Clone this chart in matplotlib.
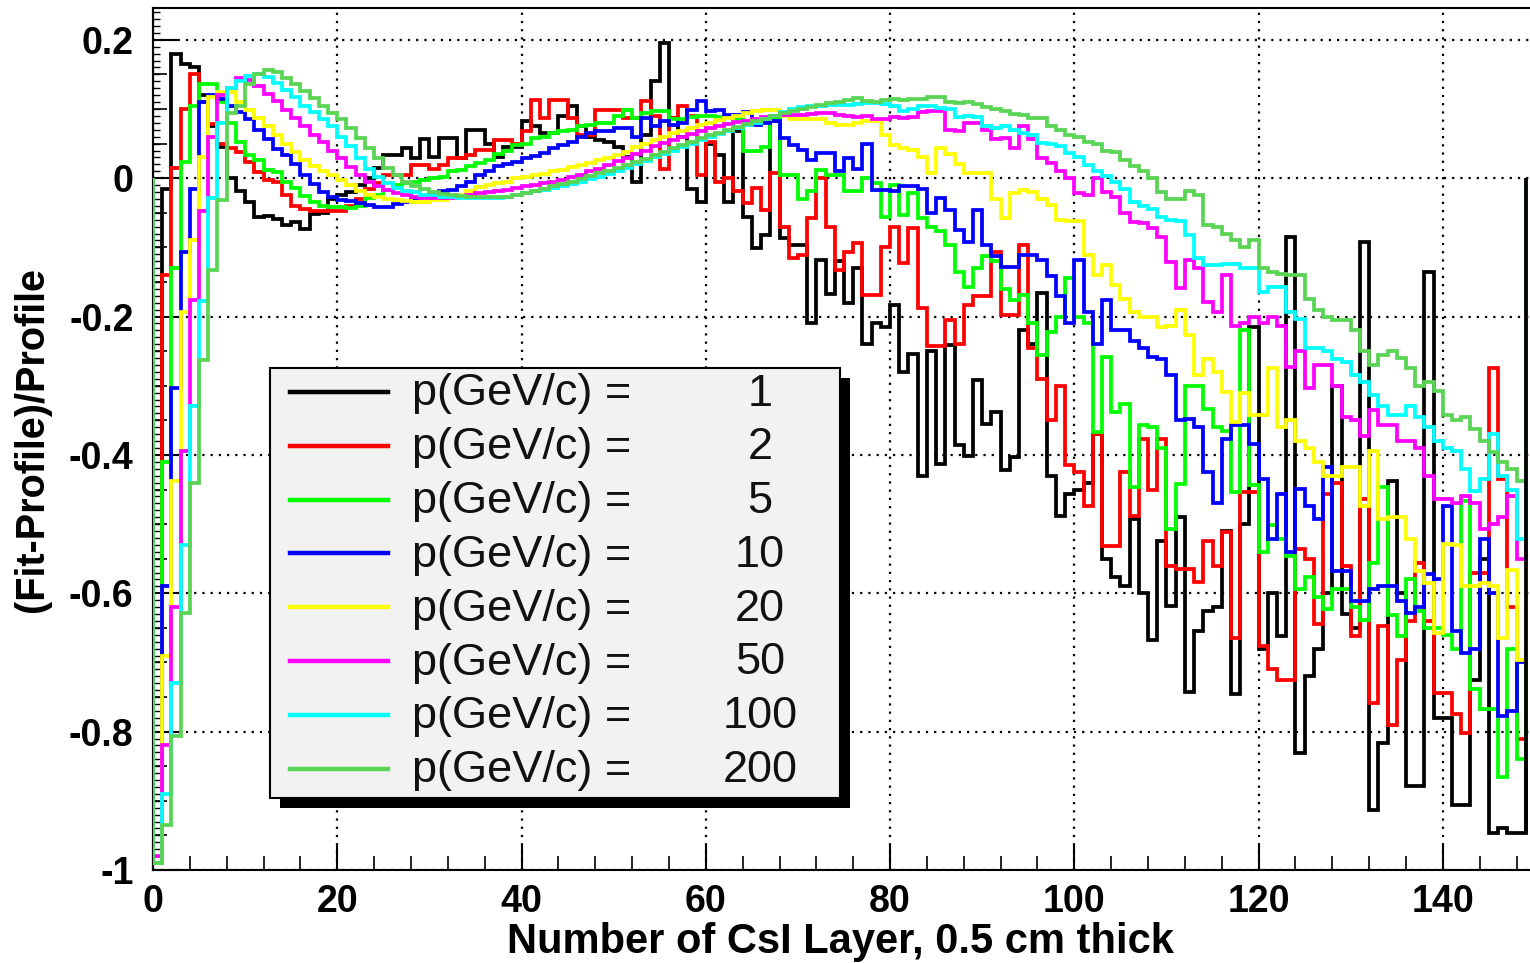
import numpy as np
import matplotlib
matplotlib.use("Agg")
import matplotlib.pyplot as plt
from matplotlib.patches import Rectangle
from matplotlib.lines import Line2D
from matplotlib.ticker import MultipleLocator, FixedLocator, FixedFormatter

plt.rcParams['font.family'] = ['Liberation Sans', 'DejaVu Sans']

# momentum of each curve (GeV/c) and its colour
momenta = [1, 2, 5, 10, 20, 50, 100, 200]
colors = ['#000000', '#ff0000', '#00ff00', '#0000ff',
          '#ffff00', '#ff00ff', '#00ffff', '#59d454']

# (Fit-Profile)/Profile per CsI layer (149 layers)
p1 = [-0.99, -0.015, 0.179, 0.165, 0.16, 0.12, 0.075, 0.045, 0.0, -0.019,
      -0.035, -0.056, -0.054, -0.059, -0.068, -0.064, -0.073, -0.052, -0.05, -0.03,
      -0.025, -0.02, -0.01, 0.0, 0.015, 0.034, 0.034, 0.043, 0.029, 0.056,
      0.03, 0.058, 0.058, 0.029, 0.07, 0.07, 0.05, 0.031, 0.045, 0.045,
      0.082, 0.075, 0.065, 0.065, 0.09, 0.104, 0.075, 0.06, 0.055, 0.053,
      0.045, 0.03, -0.005, 0.063, 0.14, 0.196, 0.087, 0.06, -0.015, -0.034,
      0.05, 0.034, -0.034, 0.068, -0.056, -0.101, -0.082, 0.082, -0.087, -0.097,
      -0.097, -0.21, -0.118, -0.167, -0.12, -0.181, -0.13, -0.24, -0.21, -0.215,
      -0.184, -0.28, -0.254, -0.43, -0.25, -0.413, -0.241, -0.386, -0.401, -0.292,
      -0.355, -0.338, -0.422, -0.403, -0.22, -0.24, -0.166, -0.43, -0.488, -0.456,
      -0.45, -0.44, -0.37, -0.55, -0.577, -0.59, -0.493, -0.6, -0.667, -0.524,
      -0.618, -0.49, -0.742, -0.655, -0.626, -0.62, -0.51, -0.746, -0.5, -0.215,
      -0.68, -0.6, -0.662, -0.085, -0.831, -0.72, -0.68, -0.6, -0.3, -0.63,
      -0.65, -0.092, -0.913, -0.817, -0.437, -0.6, -0.879, -0.879, -0.135, -0.78,
      -0.78, -0.906, -0.906, -0.725, -0.55, -0.947, -0.94, -0.947, -0.947]

p2 = [-0.99, -0.14, 0.015, 0.10, 0.151, 0.11, 0.078, 0.049, 0.043, 0.038,
      0.024, 0.009, -0.003, -0.005, -0.024, -0.04, -0.045, -0.047, -0.047, -0.048,
      -0.048, -0.04, -0.03, -0.015, -0.007, 0.005, 0.005, 0.005, 0.019, 0.019,
      0.014, 0.019, 0.029, 0.029, 0.034, 0.041, 0.041, 0.055, 0.055, 0.05,
      0.068, 0.113, 0.087, 0.113, 0.113, 0.087, 0.063, 0.063, 0.099, 0.099,
      0.099, 0.087, 0.087, 0.111, 0.09, 0.014, 0.087, 0.104, 0.09, 0.005,
      0.053, -0.005, 0.0, -0.019, -0.036, -0.014, -0.046, 0.007, -0.07, -0.116,
      -0.111, -0.058, 0.0, -0.07, -0.133, -0.106, -0.094, -0.169, -0.169, -0.1,
      -0.07, -0.123, -0.072, -0.188, -0.242, -0.242, -0.205, -0.24, -0.183, -0.171,
      -0.171, -0.106, -0.198, -0.198, -0.097, -0.246, -0.29, -0.35, -0.3, -0.415,
      -0.425, -0.474, -0.37, -0.531, -0.531, -0.425, -0.488, -0.377, -0.45, -0.377,
      -0.56, -0.565, -0.565, -0.584, -0.524, -0.56, -0.512, -0.664, -0.454, -0.454,
      -0.676, -0.71, -0.725, -0.725, -0.536, -0.551, -0.645, -0.457, -0.44, -0.56,
      -0.662, -0.464, -0.758, -0.647, -0.79, -0.696, -0.64, -0.556, -0.64, -0.744,
      -0.744, -0.775, -0.802, -0.57, -0.57, -0.275, -0.435, -0.62, -0.81]

p5 = [-0.99, -0.41, -0.13, 0.024, 0.104, 0.136, 0.136, 0.11, 0.08, 0.052,
      0.033, 0.026, 0.012, 0.009, -0.005, -0.014, -0.026, -0.035, -0.04, -0.042,
      -0.041, -0.043, -0.04, -0.029, -0.025, -0.017, -0.01, -0.007, -0.005, -0.003,
      0.0, 0.002, 0.01, 0.012, 0.017, 0.022, 0.027, 0.035, 0.039, 0.048,
      0.05, 0.058, 0.06, 0.065, 0.068, 0.07, 0.075, 0.077, 0.08, 0.08,
      0.09, 0.099, 0.087, 0.094, 0.097, 0.097, 0.085, 0.085, 0.088, 0.09,
      0.09, 0.088, 0.088, 0.085, 0.039, 0.039, 0.045, 0.087, 0.005, 0.005,
      -0.03, -0.019, 0.012, 0.005, 0.005, -0.019, -0.019, 0.0, -0.007, -0.056,
      -0.01, -0.053, -0.022, -0.058, -0.07, -0.077, -0.097, -0.135, -0.157, -0.13,
      -0.113, -0.12, -0.16, -0.176, -0.169, -0.21, -0.256, -0.222, -0.2, -0.145,
      -0.2, -0.21, -0.367, -0.258, -0.338, -0.326, -0.447, -0.357, -0.36, -0.39,
      -0.507, -0.442, -0.30, -0.30, -0.333, -0.36, -0.365, -0.454, -0.22, -0.444,
      -0.541, -0.502, -0.522, -0.546, -0.594, -0.577, -0.606, -0.623, -0.594, -0.594,
      -0.62, -0.638, -0.556, -0.447, -0.632, -0.662, -0.58, -0.625, -0.65, -0.65,
      -0.66, -0.681, -0.466, -0.739, -0.768, -0.768, -0.865, -0.68, -0.84]

p10 = [-0.99, -0.59, -0.304, -0.106, -0.015, 0.11, 0.12, 0.115, 0.105, 0.096,
       0.085, 0.07, 0.056, 0.042, 0.033, 0.02, 0.005, -0.008, -0.02, -0.027,
       -0.031, -0.033, -0.036, -0.039, -0.041, -0.041, -0.038, -0.034, -0.029, -0.027,
       -0.024, -0.019, -0.017, -0.012, -0.005, 0.005, 0.01, 0.017, 0.02, 0.024,
       0.029, 0.032, 0.036, 0.043, 0.048, 0.053, 0.06, 0.066, 0.068, 0.068,
       0.072, 0.072, 0.06, 0.087, 0.075, 0.082, 0.077, 0.08, 0.099, 0.111,
       0.097, 0.099, 0.092, 0.092, 0.095, 0.077, 0.08, 0.082, 0.058, 0.048,
       0.041, 0.027, 0.036, 0.036, 0.01, 0.029, 0.014, 0.05, -0.017, -0.017,
       -0.019, -0.012, -0.012, -0.016, -0.051, -0.029, -0.046, -0.075, -0.092, -0.046,
       -0.097, -0.113, -0.128, -0.128, -0.111, -0.111, -0.118, -0.142, -0.171, -0.21,
       -0.118, -0.193, -0.239, -0.176, -0.22, -0.22, -0.236, -0.245, -0.258, -0.262,
       -0.285, -0.35, -0.348, -0.36, -0.425, -0.469, -0.377, -0.357, -0.357, -0.384,
       -0.435, -0.522, -0.456, -0.541, -0.449, -0.474, -0.493, -0.418, -0.568, -0.568,
       -0.611, -0.611, -0.594, -0.59, -0.59, -0.611, -0.628, -0.62, -0.572, -0.58,
       -0.474, -0.655, -0.686, -0.68, -0.522, -0.6, -0.778, -0.77, -0.7]

p20 = [-0.99, -0.69, -0.437, -0.193, -0.09, 0.03, 0.118, 0.125, 0.125, 0.11,
       0.099, 0.087, 0.075, 0.063, 0.05, 0.038, 0.026, 0.017, 0.01, 0.005,
       -0.002, -0.01, -0.019, -0.025, -0.027, -0.03, -0.031, -0.033, -0.034, -0.034,
       -0.032, -0.031, -0.029, -0.025, -0.019, -0.013, -0.01, -0.007, -0.005, 0.0,
       0.002, 0.004, 0.006, 0.01, 0.012, 0.016, 0.019, 0.022, 0.027, 0.029,
       0.033, 0.038, 0.045, 0.05, 0.055, 0.06, 0.065, 0.068, 0.072, 0.077,
       0.08, 0.084, 0.087, 0.09, 0.094, 0.097, 0.099, 0.099, 0.09, 0.085,
       0.085, 0.085, 0.085, 0.08, 0.077, 0.077, 0.08, 0.082, 0.082, 0.063,
       0.048, 0.043, 0.041, 0.03, 0.007, 0.043, 0.035, 0.02, 0.007, 0.007,
       0.007, -0.03, -0.058, -0.022, -0.017, -0.02, -0.03, -0.039, -0.06, -0.062,
       -0.062, -0.111, -0.14, -0.126, -0.155, -0.174, -0.193, -0.2, -0.2, -0.215,
       -0.213, -0.19, -0.227, -0.285, -0.261, -0.28, -0.309, -0.353, -0.311, -0.343,
       -0.343, -0.275, -0.36, -0.35, -0.38, -0.39, -0.41, -0.43, -0.43, -0.418,
       -0.418, -0.474, -0.394, -0.493, -0.49, -0.49, -0.522, -0.568, -0.585, -0.657,
       -0.529, -0.53, -0.59, -0.59, -0.585, -0.59, -0.664, -0.567, -0.696]

p50 = [-0.98, -0.82, -0.62, -0.394, -0.176, -0.048, 0.06, 0.12, 0.13, 0.145,
       0.142, 0.133, 0.122, 0.111, 0.099, 0.087, 0.075, 0.063, 0.052, 0.04,
       0.029, 0.016, 0.004, -0.005, -0.012, -0.017, -0.022, -0.025, -0.027, -0.028,
       -0.029, -0.029, -0.028, -0.027, -0.025, -0.022, -0.02, -0.019, -0.017, -0.014,
       -0.012, -0.01, -0.007, -0.005, -0.002, 0.002, 0.005, 0.01, 0.014, 0.019,
       0.025, 0.029, 0.035, 0.04, 0.046, 0.051, 0.055, 0.06, 0.064, 0.068,
       0.072, 0.075, 0.078, 0.081, 0.083, 0.086, 0.088, 0.09, 0.092, 0.092,
       0.092, 0.093, 0.094, 0.094, 0.092, 0.09, 0.089, 0.09, 0.085, 0.085,
       0.089, 0.087, 0.089, 0.095, 0.097, 0.097, 0.07, 0.068, 0.08, 0.08,
       0.07, 0.056, 0.058, 0.043, 0.075, 0.056, 0.029, 0.022, 0.01, 0.0,
       -0.022, -0.025, 0.0, -0.02, -0.027, -0.05, -0.063, -0.065, -0.072, -0.085,
       -0.121, -0.159, -0.118, -0.13, -0.179, -0.193, -0.14, -0.213, -0.21, -0.2,
       -0.21, -0.2, -0.213, -0.273, -0.25, -0.304, -0.27, -0.27, -0.3, -0.345,
       -0.35, -0.372, -0.335, -0.357, -0.357, -0.38, -0.38, -0.39, -0.43, -0.464,
       -0.464, -0.47, -0.46, -0.47, -0.507, -0.5, -0.49, -0.46, -0.55]

p100 = [-0.99, -0.89, -0.73, -0.53, -0.33, -0.178, -0.029, 0.08, 0.13, 0.141,
        0.148, 0.15, 0.146, 0.138, 0.128, 0.118, 0.105, 0.095, 0.085, 0.075,
        0.06, 0.046, 0.029, 0.014, 0.002, -0.007, -0.014, -0.019, -0.02, -0.024,
        -0.025, -0.027, -0.027, -0.028, -0.029, -0.029, -0.029, -0.028, -0.027, -0.024,
        -0.022, -0.019, -0.017, -0.014, -0.012, -0.008, -0.005, -0.001, 0.002, 0.006,
        0.01, 0.015, 0.02, 0.025, 0.03, 0.035, 0.04, 0.045, 0.05, 0.055,
        0.06, 0.064, 0.068, 0.072, 0.077, 0.08, 0.085, 0.09, 0.095, 0.1,
        0.103, 0.104, 0.105, 0.106, 0.106, 0.106, 0.107, 0.108, 0.109, 0.107,
        0.104, 0.097, 0.1, 0.104, 0.104, 0.102, 0.1, 0.088, 0.09, 0.088,
        0.075, 0.073, 0.075, 0.07, 0.065, 0.063, 0.051, 0.05, 0.047, 0.036,
        0.03, 0.019, 0.01, 0.003, -0.005, -0.015, -0.035, -0.04, -0.045, -0.056,
        -0.06, -0.062, -0.082, -0.116, -0.126, -0.125, -0.124, -0.124, -0.13, -0.13,
        -0.164, -0.157, -0.157, -0.193, -0.203, -0.246, -0.246, -0.25, -0.261, -0.265,
        -0.285, -0.295, -0.314, -0.33, -0.343, -0.343, -0.33, -0.345, -0.36, -0.38,
        -0.39, -0.395, -0.42, -0.452, -0.435, -0.37, -0.43, -0.45, -0.522]

p200 = [-0.99, -0.935, -0.807, -0.628, -0.44, -0.263, -0.133, -0.031, 0.094, 0.104,
        0.136, 0.15, 0.156, 0.153, 0.145, 0.136, 0.126, 0.116, 0.105, 0.094,
        0.085, 0.073, 0.058, 0.043, 0.029, 0.015, 0.004, -0.005, -0.011, -0.016,
        -0.02, -0.023, -0.025, -0.026, -0.027, -0.027, -0.027, -0.027, -0.027, -0.025,
        -0.022, -0.019, -0.016, -0.012, -0.008, -0.005, -0.001, 0.003, 0.007, 0.011,
        0.015, 0.019, 0.023, 0.028, 0.033, 0.038, 0.043, 0.048, 0.053, 0.058,
        0.062, 0.066, 0.07, 0.074, 0.078, 0.082, 0.086, 0.09, 0.094, 0.097,
        0.1, 0.103, 0.106, 0.108, 0.11, 0.113, 0.116, 0.112, 0.11, 0.113,
        0.115, 0.113, 0.115, 0.115, 0.118, 0.118, 0.11, 0.108, 0.11, 0.107,
        0.103, 0.1, 0.097, 0.093, 0.092, 0.087, 0.087, 0.075, 0.07, 0.063,
        0.06, 0.053, 0.05, 0.04, 0.038, 0.027, 0.017, 0.01, 0.0, -0.02,
        -0.03, -0.03, -0.018, -0.025, -0.068, -0.07, -0.08, -0.09, -0.1, -0.09,
        -0.13, -0.135, -0.138, -0.14, -0.14, -0.175, -0.19, -0.2, -0.205, -0.205,
        -0.22, -0.25, -0.27, -0.255, -0.25, -0.26, -0.275, -0.3, -0.295, -0.307,
        -0.343, -0.35, -0.345, -0.362, -0.38, -0.396, -0.41, -0.42, -0.437]

series = [p1, p2, p5, p10, p20, p50, p100, p200]

yticks = [-1.0, -0.8, -0.6, -0.4, -0.2, 0.0, 0.2]
ytick_labels = ['-1', '-0.8', '-0.6', '-0.4', '-0.2', '0', '0.2']

W, H = 1530, 963
fig = plt.figure(figsize=(W / 100, H / 100), dpi=100)
ax = fig.add_axes([153 / W, 1 - 870 / H, (1529 - 153) / W, (870 - 8) / H])

edges = np.arange(len(p1) + 1)
for vals, col in zip(series, colors):
    ax.stairs(vals, edges, baseline=0, color=col, lw=2.7, zorder=3)
# the 1 GeV/c histogram's closing edge shows on top at the right border
ax.vlines(edges[-1], p1[-1], 0, color=colors[0], lw=2.7, zorder=4)

ax.set_xlim(0, 149.35)
ax.set_ylim(-1.0, 0.246)

ax.xaxis.set_major_locator(MultipleLocator(20))
ax.xaxis.set_minor_locator(MultipleLocator(4))
ax.yaxis.set_major_locator(FixedLocator(yticks))
ax.yaxis.set_major_formatter(FixedFormatter(ytick_labels))
ax.yaxis.set_minor_locator(MultipleLocator(0.01))

ax.tick_params(which='major', direction='in', length=18, width=1.5,
               labelsize=27, top=False, right=False)
ax.tick_params(axis='x', which='minor', direction='in', length=10, width=1.2,
               top=False)
ax.tick_params(axis='y', which='minor', direction='in', length=5, width=1.0,
               right=False)
ax.tick_params(axis='x', pad=10)
ax.tick_params(axis='y', pad=14)
for lab in ax.get_xticklabels() + ax.get_yticklabels():
    lab.set_fontweight('bold')

# medium y ticks every 0.05
sec = ax.secondary_yaxis('left')
sec.yaxis.set_major_locator(MultipleLocator(0.05))
sec.yaxis.set_minor_locator(MultipleLocator(0.01))
sec.tick_params(which='major', direction='in', length=10, width=1.2,
                labelleft=False)
sec.tick_params(which='minor', length=0)
sec.spines['left'].set_linewidth(1.5)

ax.grid(True, which='major', color='black', linestyle=(0, (1, 2.7)), lw=1.6)
ax.set_axisbelow(True)
ax.spines['right'].set_visible(False)
for s in ['left', 'bottom', 'top']:
    ax.spines[s].set_linewidth(1.5)

fig.text(840 / W, 1 - 942 / H, 'Number of CsI Layer, 0.5 cm thick',
         ha='center', va='center', fontsize=30, fontweight='bold')
fig.text(32 / W, 1 - 439 / H, '(Fit-Profile)/Profile', rotation=90,
         ha='center', va='center', fontsize=28.5, fontweight='bold')

# legend box with shadow, drawn in figure pixels
def fx(x):
    return x / W

def fy(y):
    return 1 - y / H

fig.add_artist(Rectangle((fx(280), fy(808)), fx(850) - fx(280), fy(378) - fy(808),
                         transform=fig.transFigure, facecolor='black',
                         edgecolor='none', zorder=10))
fig.add_artist(Rectangle((fx(270), fy(798)), fx(840) - fx(270), fy(368) - fy(798),
                         transform=fig.transFigure, facecolor='#f2f2f2',
                         edgecolor='black', lw=1.5, zorder=11))
for i, (m, col) in enumerate(zip(momenta, colors)):
    y = 392 + 53.8 * i
    fig.add_artist(Line2D([fx(290), fx(388)], [fy(y), fy(y)], color=col, lw=3.2,
                          transform=fig.transFigure, zorder=12))
    fig.text(fx(412), fy(y + 2), 'p(GeV/c) =', ha='left', va='center',
             fontsize=32.5, color='#111111', zorder=12)
    fig.text(fx(760), fy(y + 2), str(m), ha='center', va='center',
             fontsize=32.5, color='#111111', zorder=12)

fig.savefig('out.png', dpi=100)
